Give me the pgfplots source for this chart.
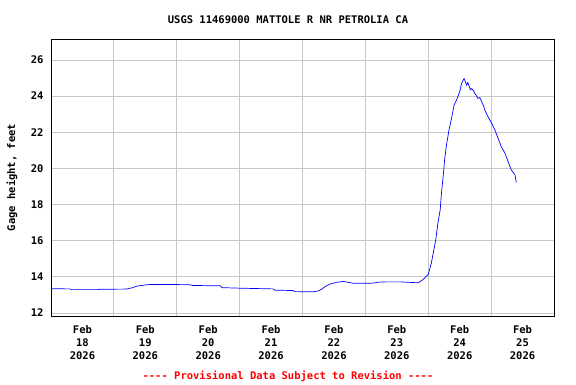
\documentclass[border=0pt]{standalone}
\usepackage{pgfplots}
\pgfplotsset{compat=1.18}
\usepackage{fontspec}
\setmonofont{DejaVu Sans Mono}
\newcommand{\chartfont}{\fontsize{10.5}{13}\selectfont\ttfamily\bfseries}
\definecolor{gridgray}{RGB}{200,200,200}
\begin{document}
\begin{tikzpicture}
\useasboundingbox (-51pt,-68pt) rectangle (525pt,316pt);
\begin{axis}[
  at={(0pt,0pt)}, anchor=south west,
  width=503pt, height=277pt, scale only axis,
  xmin=18, xmax=26, ymin=11.83, ymax=27.16,
  xtick={18.5,19.5,20.5,21.5,22.5,23.5,24.5,25.5},
  xticklabels={Feb\\18\\2026,Feb\\19\\2026,Feb\\20\\2026,Feb\\21\\2026,Feb\\22\\2026,Feb\\23\\2026,Feb\\24\\2026,Feb\\25\\2026},
  minor xtick={19,20,21,22,23,24,25},
  ytick={12,14,16,18,20,22,24,26},
  xmajorgrids=false, xminorgrids=true, ymajorgrids=true,
  grid style={gridgray, line width=0.8pt},
  minor grid style={gridgray, line width=0.8pt},
  major tick length=0pt, minor tick length=0pt,
  axis line style={black, line width=0.8pt},
  /pgf/number format/assume math mode=true,
  xticklabel style={font=\chartfont, align=center, yshift=-6pt},
  yticklabel style={font=\chartfont, xshift=-4pt},
]
\addplot[blue, line width=0.7pt] coordinates {
(18.00,13.34) (18.30,13.33) (18.32,13.29) (18.75,13.29) (18.78,13.31) (19.20,13.32)
(19.30,13.40) (19.36,13.48) (19.50,13.55) (19.57,13.57) (20.00,13.57) (20.21,13.56)
(20.25,13.52) (20.69,13.50) (20.72,13.40) (21.00,13.37) (21.53,13.33) (21.56,13.26)
(21.85,13.24) (21.88,13.18) (22.17,13.17) (22.25,13.22) (22.30,13.30) (22.37,13.48)
(22.44,13.60) (22.55,13.70) (22.65,13.74) (22.75,13.68) (22.81,13.64) (23.00,13.64)
(23.12,13.65) (23.20,13.70) (23.34,13.72) (23.55,13.72) (23.66,13.70) (23.84,13.67)
(23.92,13.85) (24.00,14.13) (24.05,14.77) (24.08,15.32) (24.12,16.06) (24.15,16.89)
(24.19,17.71) (24.21,18.63) (24.24,19.64) (24.26,20.47) (24.29,21.30) (24.33,22.12)
(24.37,22.77) (24.41,23.50) (24.45,23.78) (24.50,24.24) (24.53,24.70) (24.57,24.97)
(24.59,24.80) (24.61,24.61) (24.63,24.75) (24.65,24.55) (24.67,24.35) (24.69,24.42)
(24.72,24.30) (24.74,24.15) (24.77,24.00) (24.79,23.87) (24.82,23.92) (24.85,23.69)
(24.88,23.45) (24.90,23.23) (24.95,22.86) (25.01,22.49) (25.06,22.12) (25.11,21.67)
(25.16,21.21) (25.22,20.84) (25.27,20.38) (25.32,19.92) (25.38,19.64) (25.40,19.22)
};
\end{axis}
\node[font=\chartfont] at (237pt,296pt) {USGS 11469000 MATTOLE R NR PETROLIA CA};
\node[font=\chartfont, rotate=90] at (-39pt,138.5pt) {Gage height, feet};
\node[font=\chartfont, text=red] at (237pt,-60pt) {---- Provisional Data Subject to Revision ----};
\end{tikzpicture}
\end{document}
